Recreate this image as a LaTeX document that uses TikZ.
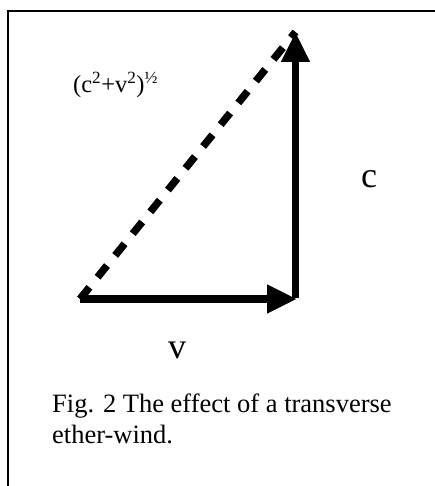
\documentclass[tikz,border=0pt]{standalone}
\usepackage{fontspec}
\setmainfont{Liberation Serif}
\usetikzlibrary{arrows.meta}

\begin{document}
\begin{tikzpicture}[x=1pt,y=-1pt,v/.style={line width=7.5pt,-{Triangle[length=30pt,width=27pt]}},d/.style={line width=7.5pt,dash pattern=on 15pt off 13pt},l/.style={inner sep=0pt,font=\fontsize{24.5}{29}\selectfont}]
\useasboundingbox (0,0) rectangle (435,486);
\draw[line width=1.5pt] (435,11)--(8,11)--(8,486);
\coordinate (o) at (80,299); \coordinate (r) at (297,299); \coordinate (t) at (295.5,32);
\draw[v] (o)--(r); \draw[v] (295.5,298)--(t);
\draw[d] (o)--(t);
\node[l,anchor=west] (h) at (73,85) {(c\textsuperscript{2}+v\textsuperscript{2})\textsuperscript{½}};
\node[l,font=\fontsize{36}{40}\selectfont] (c) at (369,179) {c};
\node[l,font=\fontsize{36}{40}\selectfont] (w) at (177,350) {v};
\node[l,anchor=north west,align=left,font=\fontsize{26.5}{31}\selectfont] (cap) at (52,394) {Fig. 2 The effect of a transverse\\ether-wind.};
\end{tikzpicture}
\end{document}
